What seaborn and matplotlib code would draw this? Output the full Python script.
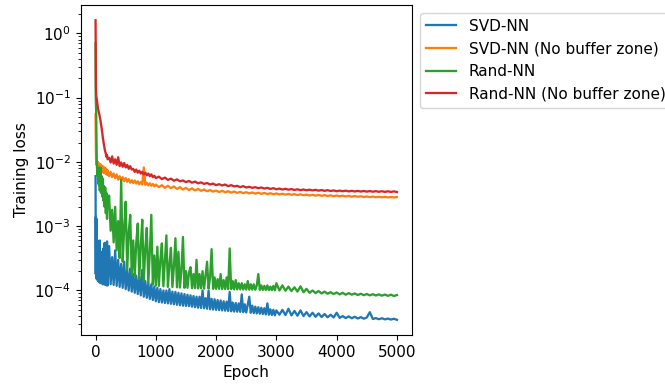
import numpy as np
import pandas as pd
import matplotlib
matplotlib.use("Agg")
import matplotlib.pyplot as plt
import seaborn as sns

plt.rcParams["font.size"] = 11

early = [0, 3, 6, 10, 15, 20, 30, 40, 50, 60, 70, 80, 90, 100, 110, 120,
         130, 140, 150, 160, 170, 180, 190, 200]
# grid for the smoother "No buffer zone" runs
epochs_coarse = early + list(range(225, 1001, 25)) + list(range(1050, 5001, 50))
# grid for the noisier runs
epochs_fine = early + list(range(225, 3001, 25)) + list(range(3050, 5001, 50))

series_names = ["SVD-NN", "SVD-NN (No buffer zone)", "Rand-NN", "Rand-NN (No buffer zone)"]

# SVD-NN, in units of 1e-5 (fine grid)
svd_nn = [
    600, 18, 140, 16, 130, 15, 60, 14, 45, 13.5, 60, 13, 40, 13, 35, 12.5, 45, 12.5, 55, 12.3, 40, 12, 58, 12,
    49, 12.5, 33, 12.2, 42, 11.8, 30, 11.4,
    26, 11, 28, 10.5, 21, 10, 22, 9.6,
    18, 9.2, 17, 8.8, 16, 8.4, 21, 8.0,
    14, 7.7, 13, 7.4, 12.5, 7.1, 11.5, 6.8,
    11, 6.6, 10.5, 6.5, 10, 6.4, 10, 6.3,
    10.5, 6.2, 9.6, 6.1, 9.5, 6.0, 9.2, 5.9,
    9, 5.8, 8.8, 5.75, 8.6, 5.7, 8.4, 5.6,
    8.2, 5.5, 8.0, 5.4, 8.0, 5.35, 10, 5.3,
    7.6, 5.2, 10, 5.1, 7.4, 5.05, 7.3, 5.0,
    7.1, 4.95, 7.0, 4.9, 6.8, 4.85, 6.7, 4.8,
    9.5, 4.75, 6.5, 4.7, 6.4, 4.68, 6.3, 4.65,
    8.7, 4.6, 6.1, 4.55, 6.0, 8.0, 4.5, 5.8,
    4.45, 5.6, 4.4, 5.5, 4.35, 5.4, 4.3, 5.3,
    4.25, 6.3, 4.2, 5.1, 4.15, 5.0, 4.1, 4.9,
    4.2, 5.0, 4.15, 5.2, 4.1, 4.8, 4.05, 4.9, 4.0, 4.6,
    3.95, 4.5, 3.9, 4.4, 3.87, 4.3, 3.83, 4.2, 3.8, 4.5,
    3.75, 4.0, 3.72, 3.95, 3.7, 3.9, 3.67, 3.85, 3.64, 3.8,
    4.6, 3.6, 3.72, 3.57, 3.7, 3.55, 3.66, 3.53, 3.63, 3.5,
]

# SVD-NN (No buffer zone), in units of 1e-3 (coarse grid)
svd_nn_nobuf = [
    55, 28, 14, 10.5, 9.0, 10.2, 8.0, 10.0, 7.8, 9.4, 7.4, 9.2, 7.2, 8.8, 7.0, 8.6, 6.8, 8.3, 6.7, 8.0, 6.5, 7.7, 6.3, 7.4,
    6.0, 7.0, 5.8, 6.6, 5.6, 6.4, 5.3, 6.0,
    5.2, 5.8, 5.0, 5.6, 4.9, 5.4, 4.75, 5.2,
    4.7, 5.15, 4.6, 5.0, 4.5, 4.9, 4.45, 8.2,
    4.4, 4.75, 4.3, 4.65, 4.25, 4.55, 4.15, 4.45,
    4.05, 4.35, 3.95, 4.25, 3.9, 4.15, 3.8, 4.05, 3.72, 3.95,
    3.65, 3.88, 3.6, 3.8, 3.55, 3.72, 3.5, 3.65, 3.45, 3.58,
    3.4, 3.55, 3.37, 3.5, 3.33, 3.46, 3.3, 3.42, 3.27, 3.38,
    3.24, 3.35, 3.21, 3.32, 3.19, 3.29, 3.16, 3.26, 3.14, 3.23,
    3.12, 3.2, 3.1, 3.18, 3.08, 3.15, 3.05, 3.13, 3.03, 3.1,
    3.01, 3.08, 2.99, 3.06, 2.97, 3.04, 2.95, 3.02, 2.93, 3.0,
    2.92, 2.98, 2.9, 2.96, 2.88, 2.94, 2.87, 2.92, 2.85, 2.9,
    2.84, 2.89, 2.83, 2.87, 2.82, 2.86, 2.81, 2.85, 2.8, 2.84,
]

# Rand-NN, in units of 1e-5 (fine grid)
rand_nn = [
    70000, 10000, 8000, 6000, 2500, 1000, 600, 820, 450, 750, 360, 820, 330, 600, 290, 550, 250, 420, 200, 400, 160, 330, 130, 260,
    300, 85, 180, 56, 200, 42, 120, 32,
    530, 28, 95, 240, 21, 80, 150, 17.5,
    60, 16.6, 55, 110, 15, 50, 126, 13.8,
    45, 94, 13, 40, 150, 12.3, 35, 11.9,
    48, 11.8, 30, 54, 11.6, 28, 72, 11.4,
    25, 46, 11.3, 24, 65, 11.2, 40, 11.1,
    21, 68, 11, 20, 11, 19, 23, 10.9,
    18, 10.9, 30, 10.8, 18, 10.8, 20, 10.7,
    17, 28, 10.7, 16, 44, 10.6, 16, 10.6,
    15, 10.6, 18, 10.5, 14.5, 10.5, 16, 10.5,
    45, 10.5, 14, 10.4, 14.5, 10.4, 13, 10.4,
    13, 10.35, 12.5, 10.35, 14, 10.3, 12.5, 10.3,
    12.5, 10.25, 12, 18, 10.2, 12, 10.2, 11.8,
    10.15, 12, 10.1, 11.5, 10.1, 11.8, 10.05, 13,
    10.0, 12.0, 9.9, 11.5, 9.8, 11.2, 9.6, 11.6, 9.4, 10.6,
    9.2, 10, 9.1, 9.8, 9.0, 9.6, 8.9, 9.4, 8.8, 9.3,
    8.7, 9.2, 8.6, 9.1, 8.6, 9.0, 8.5, 8.9, 8.45, 8.8,
    8.4, 8.75, 8.35, 8.7, 8.3, 8.65, 8.25, 8.6, 8.2, 8.5,
]

# Rand-NN (No buffer zone), in units of 1e-3 (coarse grid)
rand_nn_nobuf = [
    1600, 400, 150, 110, 100, 95, 80, 68, 62, 56, 50, 45, 39, 34, 29, 24, 21, 18, 16, 14.5, 13.5, 12.0, 12.8, 11.0,
    11.6, 9.8, 12.2, 9.4, 11.0, 9.0, 11.8, 8.6,
    9.8, 8.4, 9.6, 8.2, 9.0, 7.8, 8.6, 7.6,
    7.8, 7.0, 7.6, 6.8, 7.3, 6.6, 7.0, 6.4,
    6.8, 6.2, 6.6, 6.0, 6.4, 5.8, 6.1, 5.6,
    5.9, 5.4, 5.7, 5.25, 5.5, 5.1, 5.35, 5.0, 5.15, 4.85,
    5.05, 4.75, 4.95, 4.65, 4.8, 4.55, 4.7, 4.45, 4.6, 4.35,
    4.5, 4.3, 4.45, 4.2, 4.35, 4.15, 4.25, 4.05, 4.2, 4.0,
    4.1, 3.95, 4.05, 3.9, 4.0, 3.85, 3.95, 3.8, 3.9, 3.75,
    3.85, 3.72, 3.82, 3.7, 3.78, 3.66, 3.75, 3.64, 3.72, 3.62,
    3.7, 3.6, 3.68, 3.57, 3.65, 3.55, 3.63, 3.53, 3.6, 3.5,
    3.58, 3.5, 3.57, 3.48, 3.55, 3.47, 3.54, 3.46, 3.53, 3.45,
    3.52, 3.44, 3.51, 3.43, 3.5, 3.42, 3.49, 3.41, 3.48, 3.4,
]

units = [1e-5, 1e-3, 1e-5, 1e-3]
grids = [epochs_fine, epochs_coarse, epochs_fine, epochs_coarse]
all_series = [svd_nn, svd_nn_nobuf, rand_nn, rand_nn_nobuf]

frames = []
for name, vals, u, ep in zip(series_names, all_series, units, grids):
    assert len(vals) == len(ep), (name, len(vals), len(ep))
    frames.append(pd.DataFrame({"Epoch": ep,
                                "Training loss": np.array(vals) * u,
                                "Model": name}))
df = pd.concat(frames, ignore_index=True)

W, H = 665, 386
fig = plt.figure(figsize=(W / 100, H / 100), dpi=100)
ax = fig.add_axes([80.5 / W, 1 - 335 / H, (412 - 80.5) / W, (335 - 5) / H])

palette = sns.color_palette("tab10")[:4]
sns.lineplot(data=df, x="Epoch", y="Training loss", hue="Model",
             hue_order=series_names, palette=palette, estimator=None,
             sort=False, linewidth=1.65, ax=ax)

ax.set_yscale("log")
ax.set_xlim(-250, 5250)
ax.set_ylim(2.03e-5, 2.76)
ax.set_xticks([0, 1000, 2000, 3000, 4000, 5000])
ax.set_xlabel("Epoch")
ax.set_ylabel("Training loss")

handles, labels = ax.get_legend_handles_labels()
ax.legend(handles, labels, loc="upper left", bbox_to_anchor=(1.0, 1.0))

fig.savefig("out.png", dpi=100)
